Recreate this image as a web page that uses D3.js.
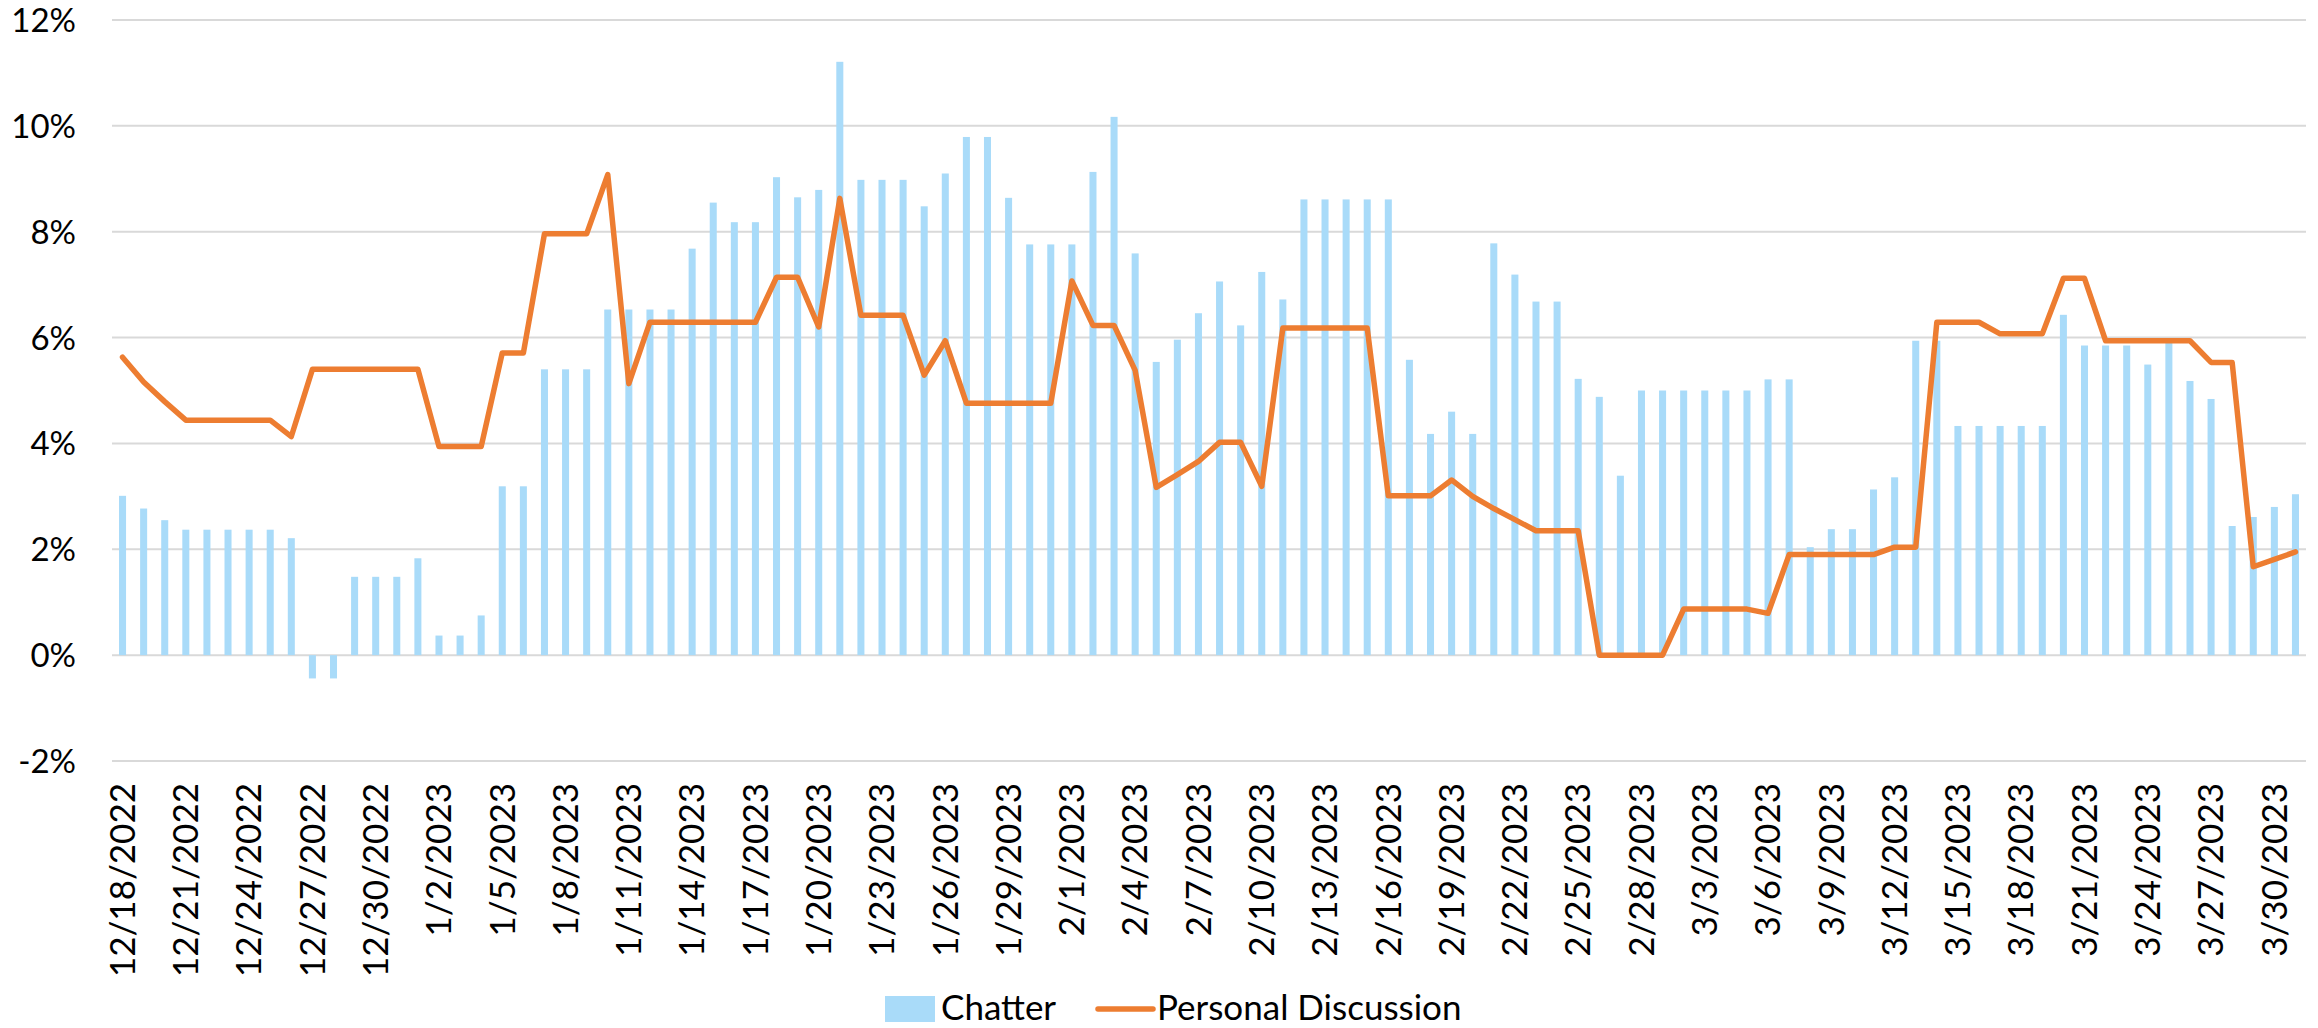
<!DOCTYPE html>
<html>
<head>
<meta charset="utf-8">
<script src="https://cdn.jsdelivr.net/npm/d3@7"></script>
<style>
	html, body { margin: 0; padding: 0; background: #fff; }
	svg text { font-family: Lato, 'Open Sans', sans-serif; fill: #000; }
</style>
</head>
<body>
<div id="chart"></div>
<script>
// ********** CHATTER VS PERSONAL DISCUSSION **********

// Date range of the daily categories (inclusive)
const firstDay = new Date(2022, 11, 18);
const lastDay = new Date(2023, 2, 31);

// Chatter, % (bars), one value per day
const chatter = [
	3.01, 2.77, 2.55, 2.37, 2.37, 2.37, 2.37, 2.37, 2.21, -0.44,
	-0.44, 1.48, 1.48, 1.48, 1.83, 0.37, 0.37, 0.75, 3.19, 3.19,
	5.40, 5.40, 5.40, 6.53, 6.53, 6.53, 6.53, 7.68, 8.55, 8.18,
	8.18, 9.03, 8.65, 8.79, 11.21, 8.98, 8.98, 8.98, 8.48, 9.10,
	9.79, 9.79, 8.64, 7.76, 7.76, 7.76, 9.13, 10.17, 7.59, 5.54,
	5.96, 6.46, 7.06, 6.23, 7.24, 6.72, 8.61, 8.61, 8.61, 8.61,
	8.61, 5.58, 4.18, 4.60, 4.18, 7.78, 7.19, 6.68, 6.68, 5.22,
	4.88, 3.39, 5.00, 5.00, 5.00, 5.00, 5.00, 5.00, 5.21, 5.21,
	2.04, 2.38, 2.38, 3.13, 3.36, 5.94, 5.94, 4.33, 4.33, 4.33,
	4.33, 4.33, 6.43, 5.85, 5.85, 5.85, 5.49, 5.92, 5.18, 4.84,
	2.44, 2.61, 2.80, 3.04
];

// Personal Discussion, % (line), one value per day
const personal = [
	5.63, 5.16, 4.79, 4.44, 4.44, 4.44, 4.44, 4.44, 4.13, 5.40,
	5.40, 5.40, 5.40, 5.40, 5.40, 3.94, 3.94, 3.94, 5.71, 5.71,
	7.96, 7.96, 7.96, 9.08, 5.13, 6.29, 6.29, 6.29, 6.29, 6.29,
	6.29, 7.14, 7.14, 6.20, 8.63, 6.42, 6.42, 6.42, 5.29, 5.94,
	4.76, 4.76, 4.76, 4.76, 4.76, 7.07, 6.23, 6.23, 5.38, 3.17,
	3.41, 3.66, 4.02, 4.02, 3.19, 6.18, 6.18, 6.18, 6.18, 6.18,
	3.01, 3.01, 3.01, 3.31, 3.00, 2.77, 2.56, 2.35, 2.35, 2.35,
	0, 0, 0, 0, 0.87, 0.87, 0.87, 0.87, 0.79, 1.90,
	1.90, 1.90, 1.90, 1.90, 2.04, 2.04, 6.29, 6.29, 6.29, 6.07,
	6.07, 6.07, 7.12, 7.12, 5.94, 5.94, 5.94, 5.94, 5.94, 5.53,
	5.53, 1.67, 1.81, 1.95
];

// Axis ticks and legend names
const yTicks = [-2, 0, 2, 4, 6, 8, 10, 12];
const labelEvery = 3;
const seriesNames = ['Chatter', 'Personal Discussion'];

const width = 2318,
	  height = 1028;

const barColor = '#a9dbf9',
	  lineColor = '#ed7d31',
	  gridColor = '#d9d9d9';

// Plot area edges
const plot = {
	left: 112,
	right: 2306,
	top: 20,
	bottom: 761
};

const days = d3.timeDay.range(firstDay, d3.timeDay.offset(lastDay, 1));
const fmtDay = d3.timeFormat('%-m/%-d/%Y');

const svg = d3.select('#chart')
	.append('svg')
	.attr('width', width)
	.attr('height', height);

const x = d3.scaleBand()
	.domain(days)
	.range([plot.left, plot.right])
	.paddingInner(0.667)
	.paddingOuter(0.333);

const y = d3.scaleLinear()
	.domain([-2, 12])
	.range([plot.bottom, plot.top]);

// Horizontal gridlines
svg.append('g')
	.attr('class', 'grid')
	.selectAll('line')
	.data(yTicks)
	.enter()
	.append('line')
	.attr('x1', plot.left)
	.attr('x2', plot.right)
	.attr('y1', d => y(d))
	.attr('y2', d => y(d))
	.attr('stroke', gridColor)
	.attr('stroke-width', 2);

// Y axis labels (no domain line, no ticks)
const yAxis = d3.axisLeft(y)
	.tickValues(yTicks)
	.tickFormat(d => `${d}%`)
	.tickSize(0)
	.tickPadding(0);

svg.append('g')
	.attr('transform', 'translate(76, 0)')
	.call(yAxis)
	.call(g => g.select('.domain').remove())
	.selectAll('text')
	.attr('font-size', '33px')
	.attr('font-family', "Lato, 'Open Sans', sans-serif")
	.attr('fill', '#000')
	.attr('dy', '0.35em');

// Bars
svg.append('g')
	.attr('class', 'bars')
	.selectAll('rect')
	.data(chatter)
	.enter()
	.append('rect')
	.attr('x', (d, i) => x(days[i]))
	.attr('width', x.bandwidth())
	.attr('y', d => y(Math.max(0, d)))
	.attr('height', d => Math.abs(y(d) - y(0)))
	.attr('fill', barColor);

// Line
const line = d3.line()
	.x((d, i) => x(days[i]) + x.bandwidth() / 2)
	.y(d => y(d));

svg.append('path')
	.datum(personal)
	.attr('d', line)
	.attr('fill', 'none')
	.attr('stroke', lineColor)
	.attr('stroke-width', 5.5)
	.attr('stroke-linejoin', 'round')
	.attr('stroke-linecap', 'round');

// X axis labels, rotated, every third day
const xAxis = d3.axisBottom(x)
	.tickValues(days.filter((d, i) => i % labelEvery === 0))
	.tickFormat(fmtDay)
	.tickSize(0)
	.tickPadding(0);

svg.append('g')
	.attr('transform', 'translate(0, 783)')
	.call(xAxis)
	.call(g => g.select('.domain').remove())
	.selectAll('text')
	.attr('font-size', '35px')
	.attr('font-family', "Lato, 'Open Sans', sans-serif")
	.attr('fill', '#000')
	.attr('text-anchor', 'end')
	.attr('transform', 'rotate(-90)')
	.attr('x', 0)
	.attr('y', 0)
	.attr('dy', '0.35em');

// Legend
const legend = svg.append('g')
	.attr('class', 'legend');

legend.append('rect')
	.attr('x', 885)
	.attr('y', 996)
	.attr('width', 50)
	.attr('height', 26)
	.attr('fill', barColor);

legend.append('text')
	.attr('x', 941)
	.attr('y', 1020)
	.attr('font-size', '35px')
	.text(seriesNames[0]);

legend.append('line')
	.attr('x1', 1098)
	.attr('x2', 1153)
	.attr('y1', 1009)
	.attr('y2', 1009)
	.attr('stroke', lineColor)
	.attr('stroke-width', 5.5)
	.attr('stroke-linecap', 'round');

legend.append('text')
	.attr('x', 1157)
	.attr('y', 1020)
	.attr('font-size', '35px')
	.text(seriesNames[1]);
</script>
</body>
</html>
